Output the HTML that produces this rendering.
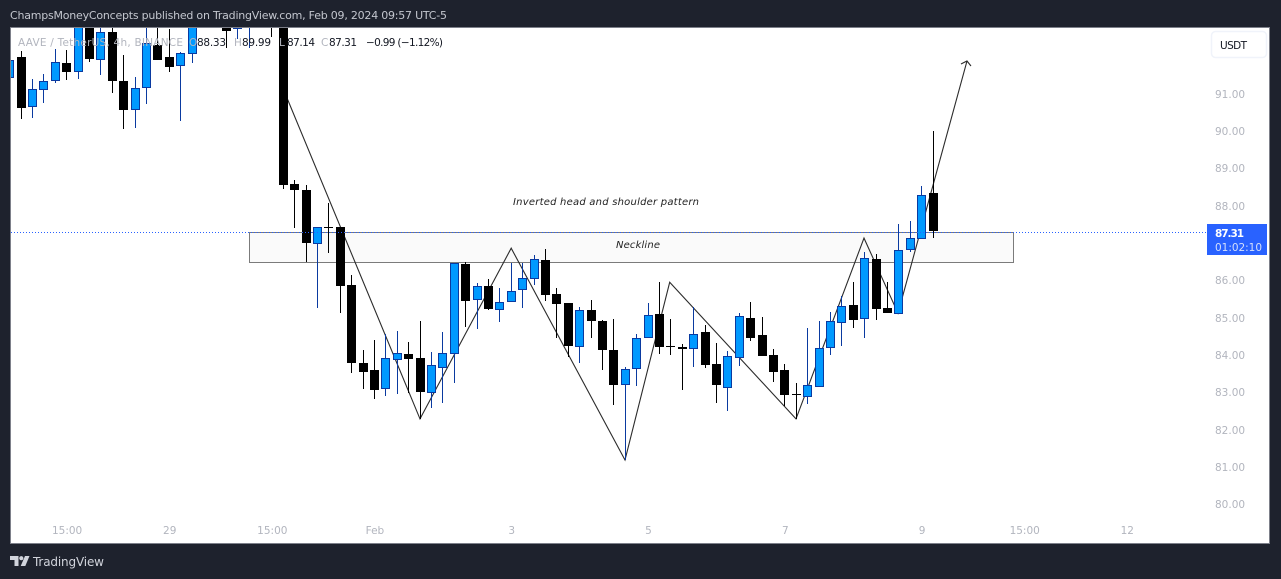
<!DOCTYPE html>
<html lang="en">
<head>
<meta charset="utf-8">
<title>AAVE / TetherUS chart</title>
<style>
html,body{margin:0;padding:0;background:#1e222d;width:1281px;height:579px;overflow:hidden}
svg{display:block}
text{font-family:"DejaVu Sans","Liberation Sans",sans-serif}
</style>
</head>
<body>
<svg id="chart" xmlns="http://www.w3.org/2000/svg" width="1281" height="579" viewBox="0 0 1281 579">
  <rect x="0" y="0" width="1281" height="579" fill="#1e222d"/>
  <text x="10" y="19" font-size="11" fill="#c3c6ce" textLength="437" lengthAdjust="spacing">ChampsMoneyConcepts published on TradingView.com, Feb 09, 2024 09:57 UTC-5</text>
  <rect x="10.5" y="27.5" width="1259" height="516" fill="#ffffff" stroke="#7d808a" stroke-width="1"/>
  <defs>
    <clipPath id="plotClip"><rect x="11" y="28" width="1258" height="515"/></clipPath>
  </defs>
  <g id="plot" clip-path="url(#plotClip)">
    <g id="drawings"></g>
    <g id="candles"></g>
    <g id="overlay"></g>
  </g>
  <g font-size="10.5">
    <text x="18" y="46" fill="#b2b5be" textLength="165" lengthAdjust="spacing">AAVE / TetherUS, 4h, BINANCE</text>
    <text x="189" y="46" fill="#b2b5be">O</text>
    <text x="197" y="46" fill="#131722" textLength="29" lengthAdjust="spacing">88.33</text>
    <text x="234" y="46" fill="#b2b5be">H</text>
    <text x="242" y="46" fill="#131722" textLength="29" lengthAdjust="spacing">89.99</text>
    <text x="279" y="46" fill="#b2b5be">L</text>
    <text x="287" y="46" fill="#131722" textLength="28" lengthAdjust="spacing">87.14</text>
    <text x="321" y="46" fill="#b2b5be">C</text>
    <text x="329" y="46" fill="#131722" textLength="28" lengthAdjust="spacing">87.31</text>
    <text x="366" y="46" fill="#131722" textLength="77" lengthAdjust="spacing">−0.99 (−1.12%)</text>
  </g>
  <g id="priceAxis" font-size="10.5" fill="#b2b5be"></g>
  <g id="timeAxis" font-size="10.5" fill="#b2b5be"></g>
  <g>
    <rect x="1211.5" y="31.5" width="55" height="26" rx="4" fill="#ffffff" stroke="#f0f3fa" stroke-width="1.5"/>
    <text x="1220" y="49" font-size="10.5" fill="#131722" textLength="27" lengthAdjust="spacing">USDT</text>
  </g>
  <g>
    <rect x="1207" y="224" width="60" height="31" fill="#2962ff"/>
    <text x="1215" y="237" font-size="10.5" font-weight="bold" fill="#ffffff" textLength="29" lengthAdjust="spacing">87.31</text>
    <text x="1215" y="251" font-size="10.5" fill="#d4dffb" textLength="47" lengthAdjust="spacing">01:02:10</text>
  </g>
  <g>
    <path d="M10 556h8.5v10h-4v-6H10z M25 556h4.5l-4.2 10h-4.6z" fill="#d1d4dc"/>
    <circle cx="21.3" cy="558.2" r="2.1" fill="#d1d4dc"/>
    <text x="33" y="566" font-size="12" fill="#d1d4dc" textLength="71" lengthAdjust="spacing">TradingView</text>
  </g>
</svg>
<script>
var opens  = [91.44,91.98,90.67,91.12,91.36,91.82,91.60,93.10,91.92,92.65,91.33,90.58,91.17,92.30,91.98,91.76,92.08,92.91,92.97,93.10,92.75,92.83,93.30,93.23,93.10,88.58,88.42,87.00,87.43,87.43,85.87,83.79,83.60,83.12,83.89,84.03,83.92,83.01,83.68,84.05,86.44,85.50,85.85,85.23,85.45,85.77,86.06,86.54,85.63,85.39,84.24,85.21,84.91,84.13,83.22,83.65,84.48,85.10,84.24,84.21,84.19,84.62,83.76,83.14,83.95,84.99,84.53,84.00,83.60,82.96,82.90,83.17,84.21,84.89,85.34,84.99,86.57,85.26,85.12,86.84,87.13,88.33];
var highs  = [92.14,92.14,91.39,91.52,92.19,92.16,93.10,93.23,92.97,92.91,92.03,91.44,92.97,92.90,92.72,92.11,93.10,93.30,93.35,93.25,93.20,93.35,93.40,93.35,93.20,88.68,88.55,87.43,88.07,87.43,86.14,84.13,84.40,84.56,84.64,84.35,84.91,84.08,84.62,86.46,86.49,85.93,86.04,85.79,86.46,86.46,86.68,86.84,85.79,85.39,85.29,85.47,84.94,84.96,83.68,84.56,85.39,85.95,84.96,84.29,85.29,84.80,84.32,84.11,85.12,85.42,85.02,84.16,83.76,83.25,84.72,84.91,85.15,85.58,85.95,86.76,86.70,85.95,87.51,87.59,88.52,89.99];
var lows   = [91.23,90.32,90.34,90.75,91.28,91.36,91.39,91.84,91.50,91.01,90.05,90.07,90.72,91.90,91.57,90.26,91.81,92.85,92.90,92.22,92.46,92.22,92.85,92.51,88.44,87.40,86.49,85.26,86.73,85.12,83.52,83.09,82.82,82.90,82.96,82.98,82.29,82.58,82.72,83.25,84.75,84.70,85.21,84.89,85.45,85.26,85.87,85.45,84.46,83.95,83.79,84.46,83.60,82.66,81.19,83.17,84.48,84.03,84.00,83.06,83.68,83.65,82.72,82.50,83.71,84.37,83.97,83.28,82.63,82.29,82.69,83.17,84.00,84.24,84.72,84.46,84.94,85.12,85.12,86.76,87.11,87.14];
var closes = [91.90,90.61,91.12,91.33,91.84,91.58,92.97,91.92,92.65,91.33,90.56,91.15,92.35,91.90,91.71,92.08,92.91,93.18,93.23,92.67,93.10,93.23,93.00,92.80,88.55,88.42,87.00,87.43,87.40,85.85,83.79,83.55,83.06,83.92,84.05,83.89,83.01,83.73,84.05,86.46,85.45,85.85,85.23,85.42,85.71,86.06,86.57,85.61,85.37,84.24,85.21,84.91,84.13,83.20,83.63,84.46,85.07,84.21,84.21,84.16,84.56,83.73,83.20,83.97,85.04,84.46,83.97,83.55,82.93,82.93,83.20,84.19,84.91,85.31,84.94,86.60,85.23,85.12,86.81,87.13,88.28,87.31];

var priceTicks = [91,90,89,88,86,85,84,83,82,81,80];
var timeLabels = ["15:00","29","15:00","Feb","3","5","7","9","15:00","12"];
var timeLabelBars = [5,14,23,32,44,56,68,80,89,98];

var patternBars   = [24.33,36,44,53.98,57.9,68.98,74.95,77.93,83.98];
var patternPrices = [90.88,82.29,86.86,81.19,85.95,82.29,87.13,85.12,91.87];
var neckBars   = [21,88];
var neckPrices = [87.29,86.49];
var lastPrice  = 87.31;

var NS = "http://www.w3.org/2000/svg";
function xOf(bar){ return 933.01 - 11.4 * (81 - bar); }
function yOf(price){ return 93.5 + (91 - price) * 37.36; }
function make(tag, attrs, parent){
  var el = document.createElementNS(NS, tag);
  for (var k in attrs) el.setAttribute(k, attrs[k]);
  parent.appendChild(el);
  return el;
}

var drawings = document.getElementById("drawings");
var box = make("rect", {
  x: Math.round(xOf(neckBars[0])) + 0.5, y: Math.round(yOf(neckPrices[0])) + 0.5,
  width: Math.round(xOf(neckBars[1]) - xOf(neckBars[0])),
  height: Math.round(yOf(neckPrices[1])) - Math.round(yOf(neckPrices[0])),
  fill: "#fafafa", stroke: "#7b7b7b", "stroke-width": 1
}, drawings);



var neckLabel = make("text", {
  x: 638, y: 245, "font-size": 10, "font-style": "italic",
  fill: "#222", "text-anchor": "middle", textLength: 44, lengthAdjust: "spacing",
  "dominant-baseline": "middle"
}, drawings);
neckLabel.textContent = "Neckline";



var patternLabel = make("text", {
  x: 606, y: 202, "font-size": 10, "font-style": "italic",
  fill: "#222", "text-anchor": "middle", textLength: 186, lengthAdjust: "spacing",
  "dominant-baseline": "middle"
}, drawings);
patternLabel.textContent = "Inverted head and shoulder pattern";



var pts = patternBars.map(function(b, i){ return xOf(b).toFixed(1) + "," + yOf(patternPrices[i]).toFixed(1); });
var pattern = make("polyline", { points: pts.join(" "), fill: "none", stroke: "#2b2b2b", "stroke-width": 1.1 }, drawings);



var tipX = xOf(patternBars[patternBars.length - 1]);
var tipY = yOf(patternPrices[patternPrices.length - 1]);
var head = make("polyline", {
  points: (tipX - 6) + "," + (tipY + 3) + " " + tipX + "," + tipY + " " + (tipX + 4) + "," + (tipY + 5),
  fill: "none", stroke: "#2b2b2b", "stroke-width": 1.1
}, drawings);



var candles = document.getElementById("candles");
opens.forEach(function(o, i){
  var c = closes[i], up = c >= o;
  var px = Math.floor(xOf(i));
  var top = Math.round(yOf(Math.max(o, c)));
  var bot = Math.round(yOf(Math.min(o, c)));
  var hi = Math.round(yOf(highs[i]));
  var lo = Math.round(yOf(lows[i]));
  var g = make("g", {}, candles);
  
  
  var wick = make("rect", { x: px, y: hi, width: 1, height: Math.max(lo - hi, 1), fill: up ? "#0a3aa0" : "#000000" }, g);
  
  
  var body;
  if (up) {
    body = make("rect", { x: px - 3.5, y: top + 0.5, width: 8, height: Math.max(bot - top, 1), fill: "#0099ff", stroke: "#0a3aa0", "stroke-width": 1 }, g);
  } else {
    body = make("rect", { x: px - 4, y: top, width: 9, height: Math.max(bot - top, 1), fill: "#000000" }, g);
  }
  
  
});

var overlay = document.getElementById("overlay");
var priceLine = make("line", {
  x1: 11, x2: 1207, y1: Math.ceil(yOf(lastPrice)) + 0.5, y2: Math.ceil(yOf(lastPrice)) + 0.5,
  stroke: "#2962ff", "stroke-width": 1, "stroke-dasharray": "1 2"
}, overlay);



var priceAxis = document.getElementById("priceAxis");
priceTicks.forEach(function(p){
  var t = make("text", { x: 1215, y: Math.round(yOf(p)) + 4 }, priceAxis);
  t.textContent = p.toFixed(2);
  
  
});

var timeAxis = document.getElementById("timeAxis");
timeLabels.forEach(function(label, i){
  var t = make("text", { x: xOf(timeLabelBars[i]) + 0.5, y: 534, "text-anchor": "middle" }, timeAxis);
  t.textContent = label;
  
  
});
</script>
</body>
</html>
